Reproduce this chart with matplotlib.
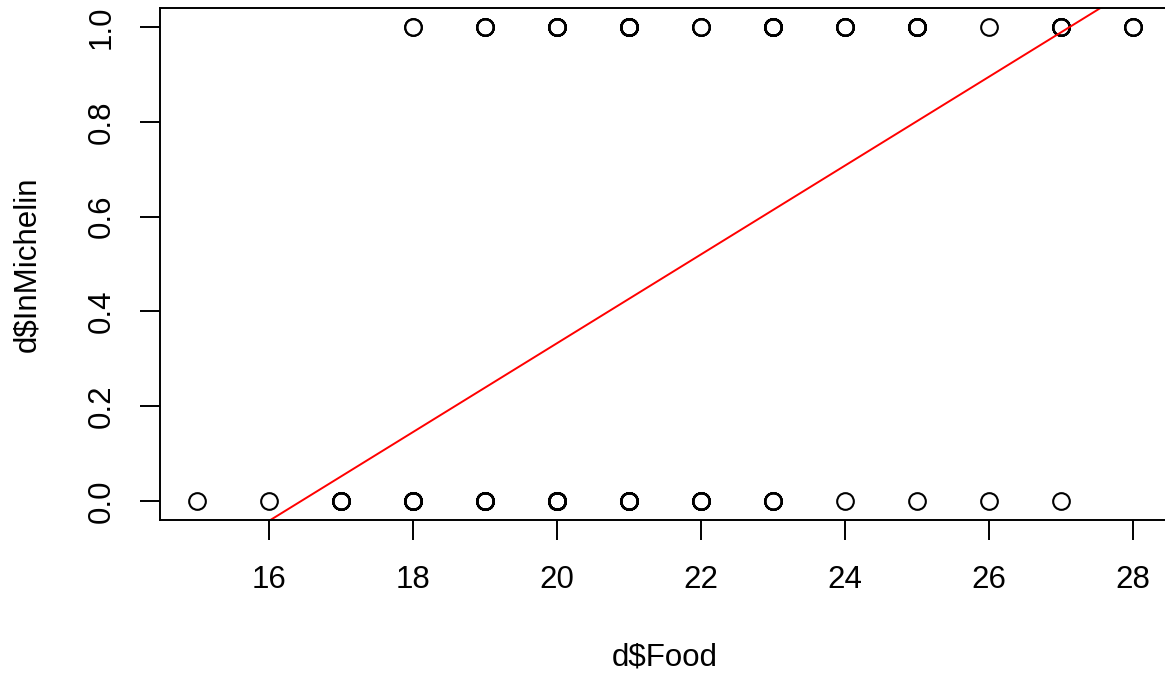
import numpy as np
import matplotlib
matplotlib.use("Agg")
import matplotlib.pyplot as plt

plt.rcParams['font.family'] = ['Liberation Sans', 'DejaVu Sans']

#%% data (counts of restaurants per Food score)
food = np.arange(15, 29)
n_in = [0, 0, 0, 2, 5, 8, 15, 4, 12, 6, 11, 1, 6, 4]
n_out = [1, 1, 8, 13, 13, 25, 11, 8, 6, 1, 1, 1, 1, 0]

# straight-line fit
b0 = -1.539
b1 = 0.0936

x = np.concatenate([np.repeat(food, n_in), np.repeat(food, n_out)])
y = np.concatenate([np.ones(sum(n_in)), np.zeros(sum(n_out))])

#%% plot
W, H = 1165, 674
fig = plt.figure(figsize=(W/100, H/100), dpi=100)
ax = fig.add_axes([160/W, 1 - 520/H, (1170 - 160)/W, (520 - 8)/H])

ax.plot(x, y, 'o', mfc='none', mec='black', ms=12, mew=1.5, ls='none')
ax.axline((0, b0), slope=b1, color='red', lw=1.4)

ax.set_xlim(14.48, 28.52)
ax.set_ylim(-0.04, 1.04)
ax.set_xticks([16, 18, 20, 22, 24, 26, 28])
ax.set_yticks([0.0, 0.2, 0.4, 0.6, 0.8, 1.0])
ax.set_yticklabels(['0.0', '0.2', '0.4', '0.6', '0.8', '1.0'], rotation=90, va='center')

for s in ax.spines.values():
    s.set_linewidth(1.4)
ax.tick_params(axis='both', length=14.4, width=1.4, labelsize=22.5)
ax.tick_params(axis='x', pad=18)
ax.tick_params(axis='y', pad=17)

fig.text(665/W, 1 - 657/H, 'd$Food', ha='center', va='center', fontsize=22.5)
fig.text(27/W, 1 - 264/H, 'd$InMichelin', ha='center', va='center', fontsize=22.5, rotation=90)

#%% save
fig.savefig('out.png', dpi=100)
